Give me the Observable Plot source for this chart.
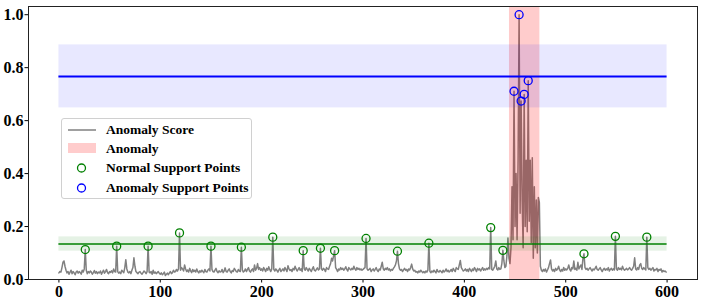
<!DOCTYPE html>
<html>
<head>
<meta charset="utf-8">
<script src="https://cdn.jsdelivr.net/npm/d3@7"></script>
<script src="https://cdn.jsdelivr.net/npm/@observablehq/plot@0.6"></script>
<style>
  html, body { margin: 0; padding: 0; background: #fff; }
  #wrap { position: relative; width: 704px; height: 301px; }
  #legend { position: absolute; left: 61px; top: 118px; width: 191px; height: 81px;
    box-sizing: border-box; border: 1px solid #d0d0d0; border-radius: 3px; background: rgba(255,255,255,0.8);
    font-family: "Liberation Serif", "Times New Roman", serif; font-weight: bold; font-size: 13.5px; color: #000; }
  .entry { position: absolute; left: 0; height: 19px; width: 100%; }
  .entry svg { position: absolute; left: 5px; top: 0; }
  .entry span { position: absolute; left: 44px; top: 1px; line-height: 17px; white-space: nowrap; }
</style>
</head>
<body>
<div id="wrap"></div>
<script>
// Anomaly score per time step (thousandths), t = 0 .. 599
const scoreThousandths = [
  25,30,28,45,65,70,50,35,25,30,20,28,35,22,30,25,18,28,32,24,
  30,26,20,35,28,40,113,35,22,30,25,32,28,20,26,34,24,30,22,28,
  25,32,20,28,35,24,30,38,26,22,30,27,33,25,40,30,28,126,30,24,
  28,22,35,30,26,45,75,40,28,25,30,22,35,45,82,50,30,26,22,28,
  30,24,20,26,32,28,22,30,126,28,25,30,20,35,24,28,22,26,30,24,
  20,25,18,22,28,15,20,24,18,25,30,22,26,35,28,30,38,32,40,176,
  35,45,40,32,55,40,30,36,28,42,32,26,38,30,35,28,40,30,25,33,
  28,35,30,26,38,30,28,36,40,32,126,38,30,28,35,42,30,26,33,28,
  30,38,26,32,44,30,28,35,40,30,25,34,30,42,36,30,28,38,32,30,
  122,35,28,32,40,30,38,45,32,28,36,40,30,55,35,42,60,38,45,35,
  40,32,45,38,30,42,35,48,38,30,40,160,38,32,40,35,28,36,42,30,
  35,40,32,45,38,30,52,40,34,38,30,42,36,50,40,32,38,45,35,40,
  30,109,40,35,45,38,32,42,36,30,40,48,35,32,38,44,36,40,118,40,
  35,42,38,30,45,40,38,50,60,80,70,90,109,45,38,30,40,36,45,38,
  42,35,40,48,38,32,45,40,36,42,38,50,40,35,45,38,42,36,40,35,
  38,42,45,155,40,35,38,42,30,36,40,32,38,45,35,30,40,36,50,65,
  40,35,42,38,45,36,40,32,38,35,42,48,55,70,107,60,40,35,38,30,
  36,42,35,38,30,40,36,45,58,40,32,35,28,30,25,32,28,35,30,26,
  30,25,32,28,35,137,30,26,32,28,35,30,25,38,30,28,34,30,26,35,
  28,32,40,30,35,28,32,38,30,42,35,30,45,40,38,55,72,45,38,32,
  35,40,32,38,30,42,36,30,40,34,45,38,30,42,36,40,32,38,45,35,
  40,36,42,38,45,40,196,38,35,42,50,70,40,36,45,38,40,60,110,70,
  45,50,90,157,80,60,120,350,150,711,200,400,150,450,1000,250,674,300,120,699,
  200,450,180,751,220,450,140,460,80,350,120,300,100,310,290,50,35,30,38,32,
  40,28,36,45,60,74,40,32,38,30,42,35,40,50,36,30,38,32,45,35,
  40,36,42,55,38,32,45,40,70,38,42,35,65,40,48,55,38,80,97,45,
  38,42,35,40,45,38,32,40,36,42,50,38,35,40,45,36,30,38,42,35,
  40,36,45,32,38,42,35,40,36,163,40,35,45,38,42,36,50,40,35,38,
  42,36,40,45,38,35,42,50,82,40,36,45,38,55,60,42,38,45,40,36,
  160,45,38,42,35,40,45,32,38,36,42,30,38,35,40,28,34,30,32,28
];
const normalSupportT = [26, 57, 88, 119, 150, 180, 211, 241, 258, 272, 303, 334, 365, 426, 438, 518, 549, 580];
const anomalySupportT = [449, 454, 456, 459, 463];
const anomalySpan = {start: 444.5, end: 474.5};
const normalBand = {mean: 0.134, std: 0.027};
const anomalyBand = {mean: 0.767, std: 0.119};
const bandExtent = {start: 0, end: 600};
const xTicks = [0, 100, 200, 300, 400, 500, 600];
const yTicks = [0.0, 0.2, 0.4, 0.6, 0.8, 1.0];
const legendLabels = ["Anomaly Score", "Anomaly", "Normal Support Points", "Anomaly Support Points"];

const score = scoreThousandths.map((v, i) => ({t: i, v: v / 1000}));
const normalPts = normalSupportT.map(t => score[t]);
const anomalyPts = anomalySupportT.map(t => score[t]);

const chart = Plot.plot({
  width: 704,
  height: 301,
  marginLeft: 28,
  marginRight: 7,
  marginTop: 6,
  marginBottom: 22,
  style: {fontFamily: "'Liberation Serif', 'Times New Roman', serif", fontWeight: "bold", fontSize: "16px", color: "#000", background: "#fff"},
  x: {domain: [-30, 630]},
  y: {domain: [0, 1.031]},
  marks: [
    Plot.line(score, {x: "t", y: "v", stroke: "#808080", strokeWidth: 1.5}),
    Plot.rect([anomalySpan], {x1: "start", x2: "end", fill: "red", fillOpacity: 0.2}),
    Plot.rect([anomalyBand], {x1: () => bandExtent.start, x2: () => bandExtent.end, y1: d => d.mean - d.std, y2: d => d.mean + d.std, fill: "blue", fillOpacity: 0.09}),
    Plot.rect([normalBand], {x1: () => bandExtent.start, x2: () => bandExtent.end, y1: d => d.mean - d.std, y2: d => d.mean + d.std, fill: "green", fillOpacity: 0.1}),
    Plot.ruleY([anomalyBand], {y: "mean", x1: () => bandExtent.start, x2: () => bandExtent.end, stroke: "blue", strokeWidth: 2}),
    Plot.ruleY([normalBand], {y: "mean", x1: () => bandExtent.start, x2: () => bandExtent.end, stroke: "green", strokeWidth: 1.6}),
    Plot.dot(normalPts, {x: "t", y: "v", r: 4, stroke: "green", strokeWidth: 1.3, fill: "none"}),
    Plot.dot(anomalyPts, {x: "t", y: "v", r: 4, stroke: "blue", strokeWidth: 1.3, fill: "none"}),
    Plot.axisX({ticks: xTicks, tickSize: 3.5, tickPadding: 3, tickFormat: d3.format("d"), label: null}),
    Plot.axisY({ticks: yTicks, tickSize: 3.5, tickPadding: 1.5, tickFormat: d3.format(".1f"), label: null}),
    Plot.frame({stroke: "#222", strokeWidth: 1})
  ]
});

const wrap = document.getElementById("wrap");
wrap.appendChild(chart);

// Legend overlay
const legend = document.createElement("div");
legend.id = "legend";
const handles = [
  `<svg width="32" height="19"><line x1="1" x2="29" y1="10" y2="10" stroke="#808080" stroke-width="1.5"/></svg>`,
  `<svg width="32" height="19"><rect x="1" y="4" width="28" height="10" fill="red" fill-opacity="0.2"/></svg>`,
  `<svg width="32" height="19"><circle cx="14.5" cy="10" r="4" fill="none" stroke="green" stroke-width="1.3"/></svg>`,
  `<svg width="32" height="19"><circle cx="14.5" cy="10" r="4" fill="none" stroke="blue" stroke-width="1.3"/></svg>`
];
legendLabels.forEach((lab, i) => {
  const e = document.createElement("div");
  e.className = "entry";
  e.style.top = (1 + i * 19.2) + "px";
  e.innerHTML = handles[i] + `<span>${lab}</span>`;
  legend.appendChild(e);
});
wrap.appendChild(legend);
</script>
</body>
</html>
